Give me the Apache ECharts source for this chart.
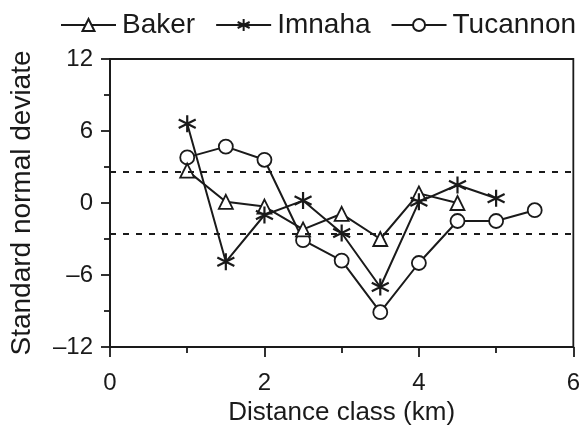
<!DOCTYPE html>
<html>
<head>
<meta charset="utf-8">
<script src="https://cdn.jsdelivr.net/npm/echarts@6/dist/echarts.min.js"></script>
<style>html,body{margin:0;padding:0;background:#fff;}#c{width:583px;height:436px;}</style>
</head>
<body>
<div id="c"></div>
<script>
const seriesNames = ['Baker', 'Imnaha', 'Tucannon'];
const bakerX = [1, 1.5, 2, 2.5, 3, 3.5, 4, 4.5];
const bakerY = [2.7, 0.1, -0.3, -2.2, -0.9, -3.0, 0.8, 0.0];
const imnahaX = [1, 1.5, 2, 2.5, 3, 3.5, 4, 4.5, 5];
const imnahaY = [6.6, -4.9, -1.0, 0.2, -2.5, -7.0, 0.1, 1.5, 0.4];
const tucannonX = [1, 1.5, 2, 2.5, 3, 3.5, 4, 4.5, 5, 5.5];
const tucannonY = [3.8, 4.7, 3.6, -3.1, -4.8, -9.1, -5.0, -1.5, -1.5, -0.6];
const critical = [2.58, -2.58];
const xTicks = [0, 2, 4, 6];
const yTicks = [-12, -6, 0, 6, 12];

const ink = '#1a1a1a';
const font = 'Liberation Sans, Arial, sans-serif';
const zip = (xs, ys) => xs.map((x, i) => [x, ys[i]]);
const star = 'path://M0,-10 L0,10 M-8.66,-5 L8.66,5 M-8.66,5 L8.66,-5';

const chart = echarts.init(document.getElementById('c'), null, {renderer: 'canvas'});
const common = {
  type: 'line',
  lineStyle: {color: ink, width: 2},
  animation: false
};
chart.setOption({
  animation: false,
  legend: {
    top: 6, left: 55,
    itemWidth: 55, itemHeight: 15, itemGap: 20,
    textStyle: {fontFamily: font, fontSize: 28, color: ink, padding: [0, 0, 0, 1]},
    data: seriesNames
  },
  grid: {left: 110, right: 8, top: 59, bottom: 89, show: true, borderColor: ink, borderWidth: 1.8, backgroundColor: 'transparent'},
  xAxis: {
    type: 'value', min: xTicks[0], max: xTicks[xTicks.length - 1], interval: 2,
    name: 'Distance class (km)', nameLocation: 'middle', nameGap: 45,
    nameTextStyle: {fontFamily: font, fontSize: 26, color: ink},
    axisLine: {show: true, onZero: false, lineStyle: {color: ink, width: 1.8}},
    axisTick: {show: true, length: 10, lineStyle: {color: ink, width: 1.8}},
    minorTick: {show: true, splitNumber: 2, length: 6, lineStyle: {color: ink, width: 1.8}},
    splitLine: {show: false},
    axisLabel: {fontFamily: font, fontSize: 24, color: ink, margin: 24}
  },
  yAxis: {
    type: 'value', min: yTicks[0], max: yTicks[yTicks.length - 1], interval: 6,
    name: 'Standard normal deviate', nameLocation: 'middle', nameGap: 74, nameRotate: 90,
    nameTextStyle: {fontFamily: font, fontSize: 28, color: ink},
    axisLine: {show: true, onZero: false, lineStyle: {color: ink, width: 1.8}},
    axisTick: {show: true, length: 9, lineStyle: {color: ink, width: 1.8}},
    minorTick: {show: true, splitNumber: 2, length: 6, lineStyle: {color: ink, width: 1.8}},
    splitLine: {show: false},
    axisLabel: {fontFamily: font, fontSize: 24, color: ink, margin: 17,
      formatter: v => String(v).replace('-', '\u2013')}
  },
  series: [
    Object.assign({}, common, {
      name: 'Baker', data: zip(bakerX, bakerY), symbol: 'triangle', symbolSize: 14,
      itemStyle: {color: '#fff', borderColor: ink, borderWidth: 1.8}, z: 3,
      markLine: {
        silent: true, symbol: 'none', label: {show: false},
        lineStyle: {color: ink, type: [6, 7], width: 1.8},
        data: critical.map(v => ({yAxis: v}))
      }
    }),
    Object.assign({}, common, {
      name: 'Imnaha', data: zip(imnahaX, imnahaY), symbol: star, symbolSize: 17,
      itemStyle: {color: ink, borderColor: ink, borderWidth: 2.2}, z: 4
    }),
    Object.assign({}, common, {
      name: 'Tucannon', data: zip(tucannonX, tucannonY), symbol: 'circle', symbolSize: 14,
      itemStyle: {color: '#fff', borderColor: ink, borderWidth: 1.8}, z: 2
    })
  ]
});
</script>
</body>
</html>
